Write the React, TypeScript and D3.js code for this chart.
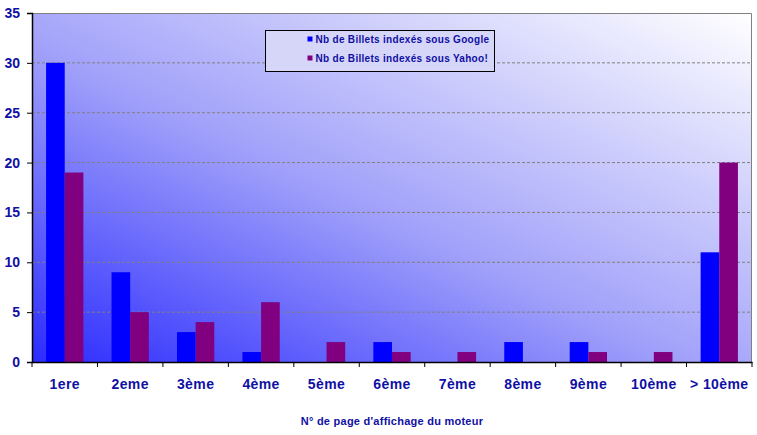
import React, { useEffect, useRef } from "react";
import * as d3 from "d3";

const categories = ["1ere", "2eme", "3ème", "4ème", "5ème", "6ème", "7ème", "8ème", "9ème", "10ème", "> 10ème"];
const googleValues = [30, 9, 3, 1, 0, 2, 0, 2, 2, 0, 11];
const yahooValues = [19, 5, 4, 6, 2, 1, 1, 0, 1, 1, 20];
const yTicks = [0, 5, 10, 15, 20, 25, 30, 35];
const seriesNames = ["Nb de Billets indexés sous Google", "Nb de Billets indexés sous Yahoo!"];
const seriesColors = ["#0000ff", "#800080"];

const App: React.FC = () => {
  const svgRef = useRef<SVGSVGElement>(null);
  const width = 757;
  const height = 435;
  const margin = { top: 13, right: 5, bottom: 73, left: 32 };

  useEffect(() => {
    if (!svgRef.current) return;
    const svg = d3.select(svgRef.current);
    svg.selectAll("*").remove();

    const font = "'Liberation Sans', Arial, sans-serif";
    const labelColor = "#1010a4";
    const innerW = width - margin.left - margin.right;
    const innerH = height - margin.top - margin.bottom;

    // background gradient of the plot area
    const defs = svg.append("defs");
    const grad = defs
      .append("linearGradient")
      .attr("id", "bg")
      .attr("x1", "0")
      .attr("y1", "1")
      .attr("x2", "1")
      .attr("y2", "0");
    grad.append("stop").attr("offset", "0").attr("stop-color", "#2b2bff");
    grad.append("stop").attr("offset", "0.45").attr("stop-color", "#a0a0fa");
    grad.append("stop").attr("offset", "1").attr("stop-color", "#ffffff");

    const x0 = d3.scaleBand().domain(categories).range([0, innerW]).paddingInner(0).paddingOuter(0);
    const x1 = d3
      .scaleBand()
      .domain(["g", "y"])
      .range([x0.bandwidth() * 0.215, x0.bandwidth() * 0.785]);
    const y = d3.scaleLinear().domain([0, 35]).range([innerH, 0]);

    const g = svg.append("g").attr("transform", `translate(${margin.left},${margin.top})`);

    g.append("rect").attr("width", innerW).attr("height", innerH).attr("fill", "url(#bg)");

    // grid lines
    g.selectAll(".grid")
      .data(yTicks.filter((t) => t > 0 && t < 35))
      .join("line")
      .attr("x1", 0)
      .attr("x2", innerW)
      .attr("y1", (d) => y(d))
      .attr("y2", (d) => y(d))
      .attr("stroke", "#808080")
      .attr("stroke-dasharray", "3,2");

    // top & right border
    g.append("path")
      .attr("d", `M0,0.5H${innerW - 0.5}V${innerH}`)
      .attr("fill", "none")
      .attr("stroke", "#808080")
      .attr("stroke-width", 1);

    const groups = g
      .selectAll(".cat")
      .data(categories)
      .join("g")
      .attr("transform", (d) => `translate(${x0(d)},0)`);

    groups
      .append("rect")
      .attr("x", x1("g")!)
      .attr("width", x1.bandwidth())
      .attr("y", (_, i) => y(googleValues[i]))
      .attr("height", (_, i) => innerH - y(googleValues[i]))
      .attr("fill", seriesColors[0]);

    groups
      .append("rect")
      .attr("x", x1("y")!)
      .attr("width", x1.bandwidth())
      .attr("y", (_, i) => y(yahooValues[i]))
      .attr("height", (_, i) => innerH - y(yahooValues[i]))
      .attr("fill", seriesColors[1]);

    // y axis
    const yAxis = g
      .append("g")
      .call(d3.axisLeft(y).tickValues(yTicks).tickSize(5).tickPadding(7));
    yAxis.select(".domain").attr("stroke", "#000").attr("stroke-width", 1.5);
    yAxis.selectAll(".tick line").attr("stroke", "#000");
    yAxis
      .selectAll("text")
      .attr("fill", labelColor)
      .style("font-family", font)
      .style("font-size", "14px")
      .style("font-weight", "bold");

    // x axis
    const xAxis = g
      .append("g")
      .attr("transform", `translate(0,${innerH})`)
      .call(d3.axisBottom(x0).tickSize(0).tickPadding(17));
    xAxis.select(".domain").attr("stroke", "#000").attr("stroke-width", 1.5);
    xAxis
      .selectAll("text")
      .attr("fill", labelColor)
      .style("font-family", font)
      .style("font-size", "14px")
      .style("font-weight", "bold")
      .style("letter-spacing", "0.4px");
    xAxis
      .selectAll(".sep")
      .data(d3.range(categories.length + 1))
      .join("line")
      .attr("x1", (i) => i * x0.bandwidth())
      .attr("x2", (i) => i * x0.bandwidth())
      .attr("y1", 0)
      .attr("y2", 5)
      .attr("stroke", "#000");

    // x axis title
    svg
      .append("text")
      .attr("x", 392)
      .attr("y", 425)
      .attr("text-anchor", "middle")
      .attr("fill", labelColor)
      .style("font-family", font)
      .style("font-size", "11px")
      .style("font-weight", "bold")
      .style("letter-spacing", "0.25px")
      .text("N° de page d'affichage du moteur");

    // legend
    const legend = svg.append("g").attr("transform", "translate(265.5,30.5)");
    legend
      .append("rect")
      .attr("width", 229)
      .attr("height", 41)
      .attr("fill", "#d6d6f8")
      .attr("stroke", "#000")
      .attr("stroke-width", 1);
    const items = legend
      .selectAll(".item")
      .data(seriesNames)
      .join("g")
      .attr("transform", (_, i) => `translate(0,${10 + i * 19})`);
    items
      .append("rect")
      .attr("x", 42)
      .attr("y", -4)
      .attr("width", 5)
      .attr("height", 5)
      .attr("fill", (_, i) => seriesColors[i]);
    items
      .append("text")
      .attr("x", 50)
      .attr("y", 2)
      .attr("fill", labelColor)
      .style("font-family", font)
      .style("font-size", "10px")
      .style("font-weight", "bold")
      .style("letter-spacing", "0.3px")
      .text((d) => d);
  }, []);

  return (
    <svg
      ref={svgRef}
      width={width}
      height={height}
      style={{ position: "absolute", left: 0, top: 0, background: "#fff" }}
    ></svg>
  );
};

export default App;
